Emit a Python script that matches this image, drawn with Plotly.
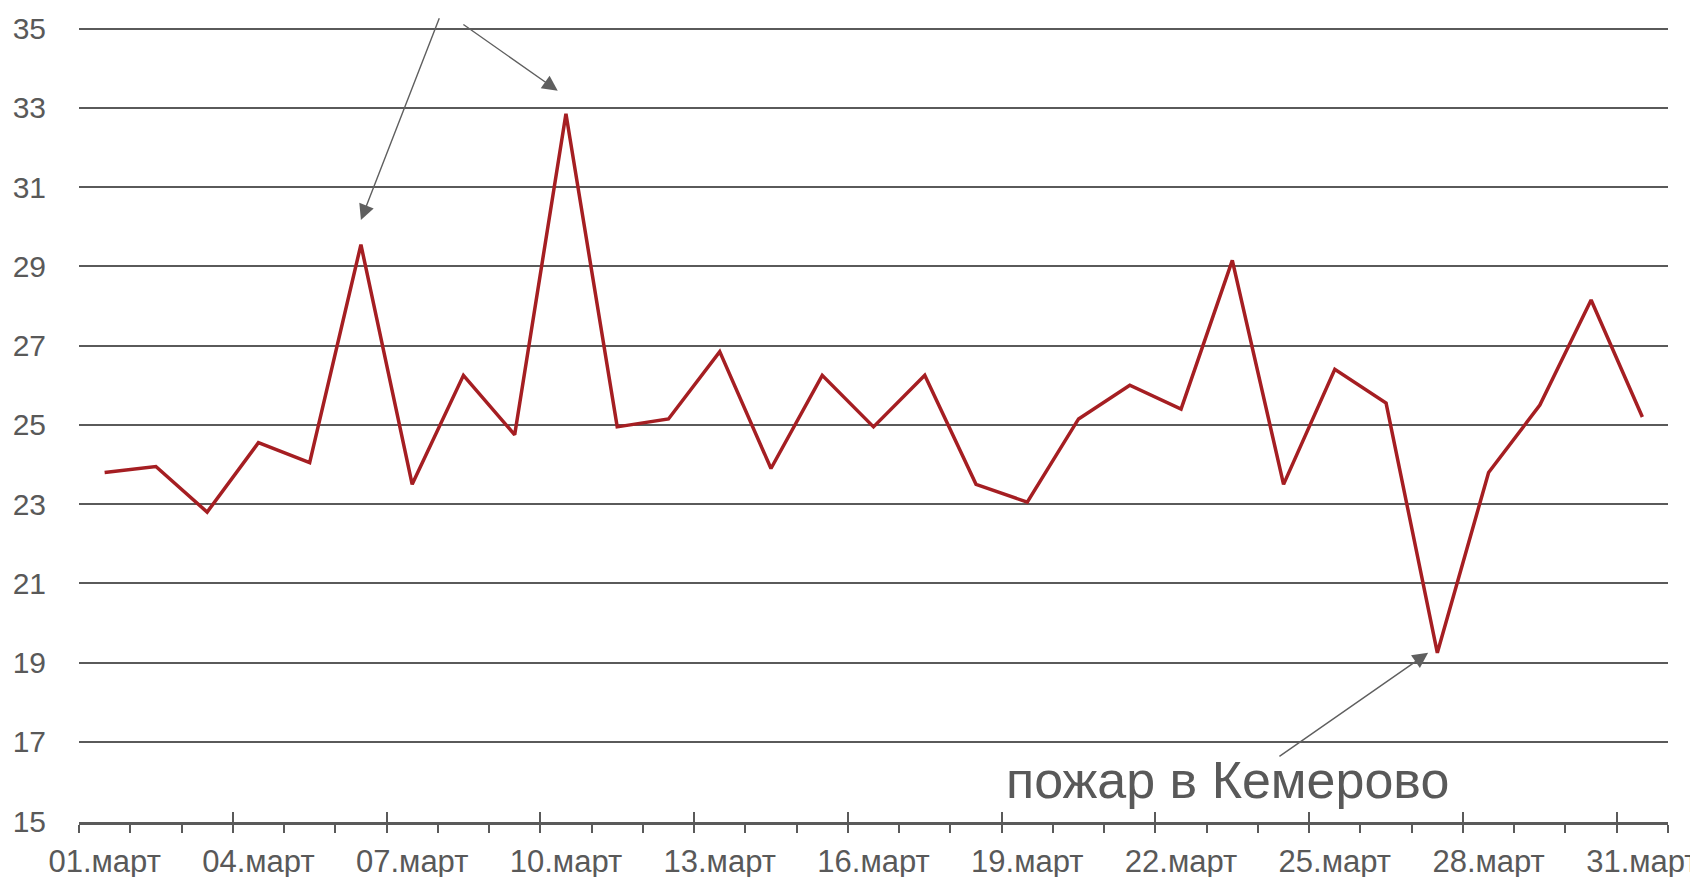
import plotly.graph_objects as go

# ---- data ----
days = list(range(1, 32))
values = [23.8, 23.95, 22.8, 24.55, 24.05, 29.55, 23.5, 26.25, 24.75, 32.85,
          24.95, 25.15, 26.85, 23.9, 26.25, 24.95, 26.25, 23.5, 23.05, 25.15,
          26.0, 25.4, 29.15, 23.5, 26.4, 25.55, 19.25, 23.8, 25.5, 28.15, 25.2]
label_days = [1, 4, 7, 10, 13, 16, 19, 22, 25, 28, 31]
label_text = ["01.март", "04.март", "07.март", "10.март", "13.март", "16.март",
              "19.март", "22.март", "25.март", "28.март", "31.март"]
y_ticks = [15, 17, 19, 21, 23, 25, 27, 29, 31, 33, 35]
annotation_text = "пожар в Кемерово"

GRAY = "#5a5a5a"
TXT = "#595959"
FONT = "Liberation Sans, Arial, sans-serif"

boundaries = [d - 0.5 for d in days] + [days[-1] + 0.5]
major_bounds = [d - 0.5 for d in label_days]

fig = go.Figure()
fig.add_trace(go.Scatter(
    x=days, y=values, mode="lines",
    line=dict(color="#A51E22", width=3.5),
    hoverinfo="x+y", showlegend=False,
))
fig.add_trace(go.Scatter(
    x=[days[0]], y=[values[0]], xaxis="x2", mode="lines",
    line=dict(width=0), showlegend=False, hoverinfo="skip",
))

xr = [days[0] - 0.5, days[-1] + 0.5]

fig.update_layout(
    width=1690, height=869,
    template="none",
    paper_bgcolor="white", plot_bgcolor="white",
    margin=dict(l=71, r=30, t=19, b=55, pad=0),
    font=dict(family=FONT, color=TXT, size=30),
    showlegend=False,
    xaxis=dict(
        range=xr, tickmode="array", tickvals=label_days, ticktext=label_text,
        ticks="", showgrid=False, zeroline=False,
        showline=True, linecolor=GRAY, linewidth=2.5,
        tickfont=dict(size=31, color=TXT, family=FONT),
        ticklabelstandoff=10, automargin=False, ticklabeloverflow="allow",
        minor=dict(tickmode="array", tickvals=boundaries, ticks="outside",
                   ticklen=8, tickwidth=2, tickcolor=GRAY, showgrid=False),
    ),
    xaxis2=dict(
        overlaying="x", anchor="y", side="bottom", range=xr,
        tickmode="array", tickvals=major_bounds, ticks="inside",
        ticklen=10, tickwidth=2, tickcolor=GRAY, showticklabels=False,
        showgrid=False, zeroline=False, showline=False, automargin=False,
    ),
    yaxis=dict(
        range=[14.98, 35.04], tickmode="array", tickvals=y_ticks,
        ticks="", showgrid=True, gridcolor=GRAY, gridwidth=2.2,
        zeroline=False, showline=False,
        tickfont=dict(size=30, color=TXT, family=FONT),
        ticklabelstandoff=32, automargin=False,
    ),
)

arrow_style = dict(showarrow=True, arrowhead=2, arrowsize=2.2, arrowwidth=1.4,
                   arrowcolor="#5f5f5f", standoff=0, text="",
                   xref="x", yref="y", axref="x", ayref="y")
fig.add_annotation(x=6.0, y=30.17, ax=7.54, ay=35.3, **arrow_style)
fig.add_annotation(x=9.84, y=33.43, ax=7.97, ay=35.13, **arrow_style)
fig.add_annotation(x=26.82, y=19.25, ax=23.89, ay=16.61, **arrow_style)
fig.add_annotation(x=22.9, y=16.05, xref="x", yref="y", text=annotation_text,
                   showarrow=False, yanchor="middle", xanchor="center",
                   font=dict(size=52, color=TXT, family=FONT))

fig.write_html("out.html")
